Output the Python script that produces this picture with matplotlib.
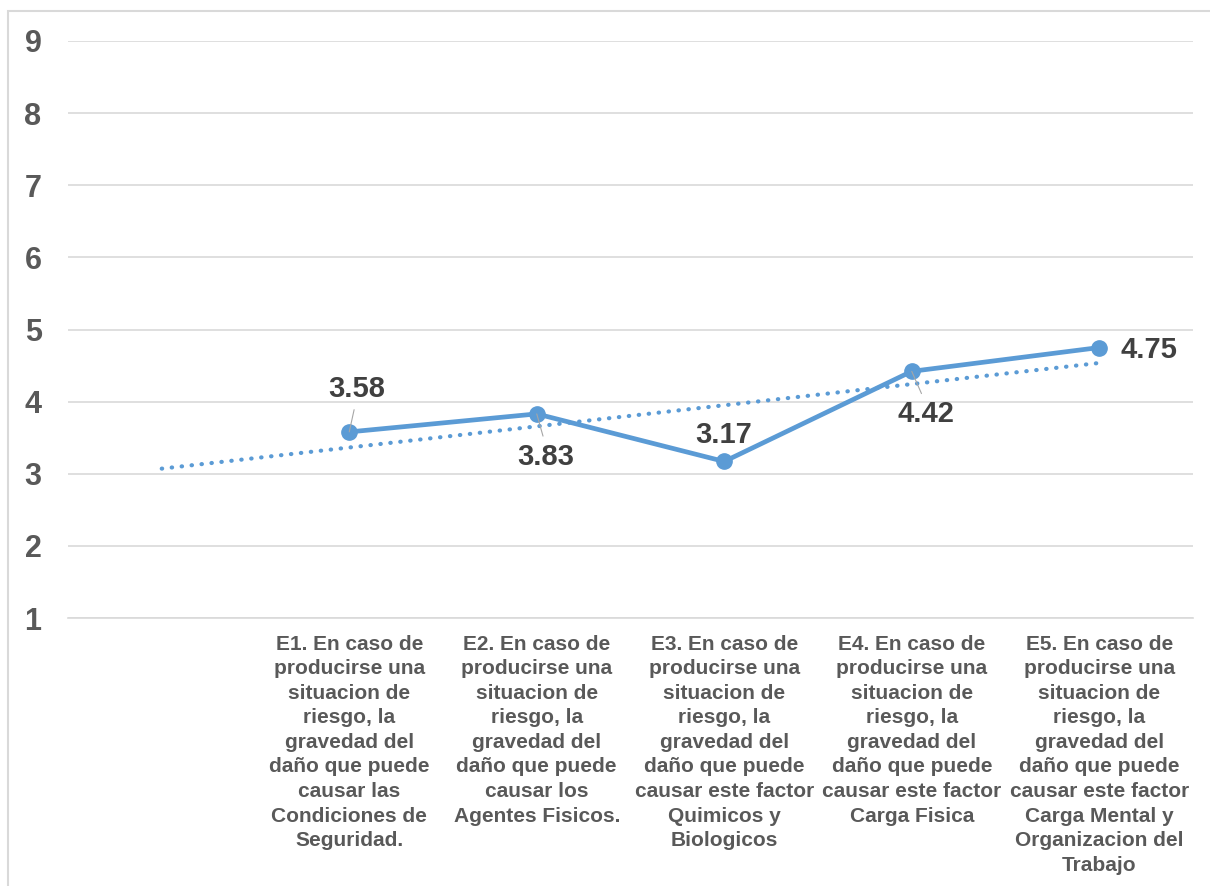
import matplotlib
matplotlib.use("Agg")
import matplotlib.pyplot as plt
import numpy as np
from matplotlib.patches import Rectangle

categories = [
    "",
    "E1. En caso de\nproducirse una\nsituacion de\nriesgo, la\ngravedad del\ndaño que puede\ncausar las\nCondiciones de\nSeguridad.",
    "E2. En caso de\nproducirse una\nsituacion de\nriesgo, la\ngravedad del\ndaño que puede\ncausar los\nAgentes Fisicos.",
    "E3. En caso de\nproducirse una\nsituacion de\nriesgo, la\ngravedad del\ndaño que puede\ncausar este factor\nQuimicos y\nBiologicos",
    "E4. En caso de\nproducirse una\nsituacion de\nriesgo, la\ngravedad del\ndaño que puede\ncausar este factor\nCarga Fisica",
    "E5. En caso de\nproducirse una\nsituacion de\nriesgo, la\ngravedad del\ndaño que puede\ncausar este factor\nCarga Mental y\nOrganizacion del\nTrabajo",
]
values = [np.nan, 3.58, 3.83, 3.17, 4.42, 4.75]
yticks = [1, 2, 3, 4, 5, 6, 7, 8, 9]

plt.rcParams['font.family'] = ['Liberation Sans', 'DejaVu Sans']

W, H = 1210, 886
fig = plt.figure(figsize=(W / 100, H / 100), dpi=100)
ax = fig.add_axes([68 / W, 1 - 618 / H, (1193 - 68) / W, (618 - 41) / H])

x = np.arange(len(categories))
vals = np.array(values, dtype=float)
line_color = "#5B9BD5"

ax.set_xlim(-0.5, len(categories) - 0.5)
ax.set_ylim(1, 9)
ax.set_yticks(yticks)
ax.grid(axis='y', color='#D9D9D9', lw=1.2)
ax.set_axisbelow(True)
for s in ['top', 'right', 'left']:
    ax.spines[s].set_visible(False)
ax.spines['bottom'].set_color('#D9D9D9')
ax.spines['bottom'].set_linewidth(1.2)

ax.tick_params(axis='y', length=0, pad=19, labelsize=22, labelcolor='#595959')
for t in ax.get_yticklabels():
    t.set_fontweight('bold')
ax.set_xticks(x)
ax.set_xticklabels(categories, fontsize=15, fontweight='bold', color='#595959',
                   linespacing=1.37)
ax.tick_params(axis='x', length=0, pad=12)

# trendline (linear fit over category positions, first empty category included in x range)
mask = ~np.isnan(vals)
xi = x + 1
coef = np.polyfit(xi[mask], vals[mask], 1)
trend = np.polyval(coef, xi)
ax.plot(x, trend, color=line_color, lw=3.0, linestyle=(0, (0.1, 2.3)),
        dash_capstyle='round', zorder=2)

ax.plot(x, vals, color=line_color, lw=3.4, marker='o', markersize=11,
        zorder=3, solid_capstyle='round')

# data labels: offsets in pixels (dx, dy) and whether a leader line is drawn
label_offsets = [None, (7, 43), (9, -43), (-1, 26), (14, -43), (50, -2)]
leaders = [False, True, True, False, True, False]
for i, (v, off, ld) in enumerate(zip(vals, label_offsets, leaders)):
    if off is None or np.isnan(v):
        continue
    dx, dy = off
    ax.annotate(f"{v:.2f}", xy=(x[i], v), xytext=(dx * 0.72, dy * 0.72),
                textcoords='offset points', ha='center', va='center',
                fontsize=21, fontweight='bold', color='#404040', zorder=5)
    if ld:
        sgn = 1 if dy > 0 else -1
        ax.annotate("", xy=(x[i], v), xytext=(dx * 0.5, sgn * 16),
                    textcoords='offset points',
                    arrowprops=dict(arrowstyle='-', color='#A6A6A6', lw=0.8,
                                    shrinkA=0, shrinkB=0), zorder=4)

# chart border
fig.patches.append(Rectangle((8 / W, -0.1), 1.2, 1 - 11 / H + 0.1,
                             transform=fig.transFigure, fill=False,
                             edgecolor='#D9D9D9', lw=1.5))

fig.savefig("out.png", dpi=100)
